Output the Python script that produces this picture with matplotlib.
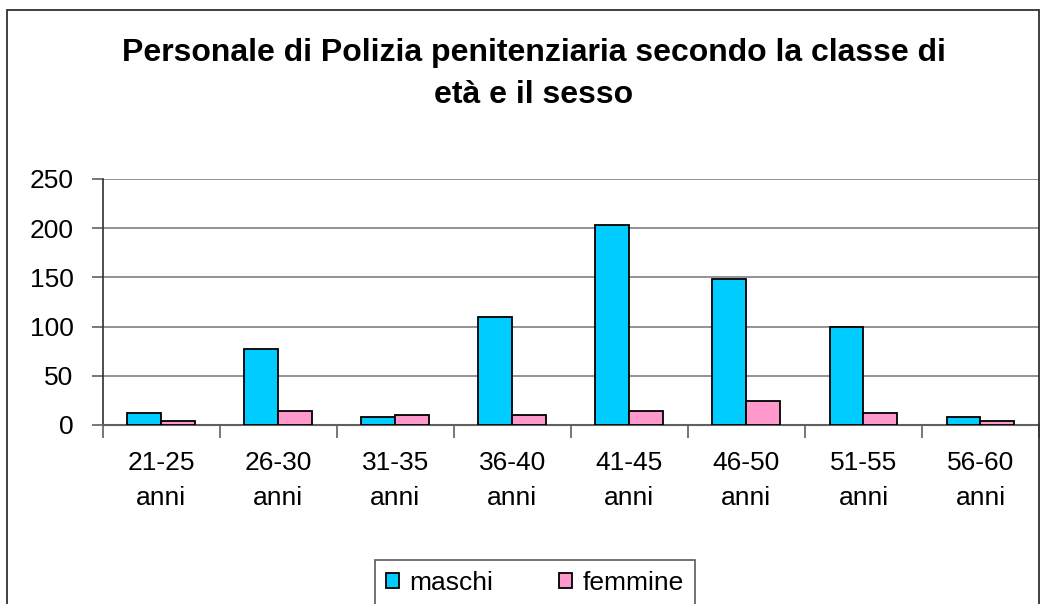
import matplotlib.pyplot as plt
import numpy as np
from matplotlib.patches import Rectangle

plt.rcParams['font.family'] = ['Liberation Sans', 'DejaVu Sans']

# Dati
classi = ["21-25\nanni", "26-30\nanni", "31-35\nanni", "36-40\nanni",
          "41-45\nanni", "46-50\nanni", "51-55\nanni", "56-60\nanni"]
maschi = [12, 77, 8, 110, 203, 148, 100, 8]
femmine = [4, 14, 10, 10, 14, 24, 12, 4]

fig = plt.figure(figsize=(10.42, 6.04), dpi=100)
ax = fig.add_axes([102.7 / 1042, 1 - 425 / 604, (1039 - 102.7) / 1042, (425 - 179) / 604])

x = np.arange(len(classi))
w = 0.29
ax.bar(x - w / 2, maschi, w, color='#00CCFF', edgecolor='black', linewidth=1.3,
       label='maschi', zorder=3)
ax.bar(x + w / 2, femmine, w, color='#FF99CC', edgecolor='black', linewidth=1.3,
       label='femmine', zorder=3)

ax.set_xlim(-0.5, len(classi) - 0.5)
ax.set_ylim(0, 250)
ax.set_yticks(range(0, 251, 50))
ax.yaxis.grid(True, color='#808080', linewidth=1.2, zorder=0)

ax.set_xticks(x)
ax.set_xticklabels(classi, fontsize=19, linespacing=1.55)
ax.set_xticks(np.arange(-0.5, len(classi)), minor=True)
ax.tick_params(axis='x', which='major', length=0, pad=19)
ax.tick_params(axis='x', which='minor', length=9, width=1.2, color='#606060')
ax.tick_params(axis='y', length=8, width=1.2, color='#606060', labelsize=19, pad=13)

for s in ['top', 'right']:
    ax.spines[s].set_visible(False)
ax.spines['left'].set_color('#303030')
ax.spines['left'].set_linewidth(1.2)
ax.spines['bottom'].set_color('#606060')
ax.spines['bottom'].set_linewidth(1.5)

fig.text(0.512, 1 - 74 / 604, "Personale di Polizia penitenziaria secondo la classe di\netà e il sesso",
         ha='center', va='center', fontsize=23, fontweight='bold', linespacing=1.5)

# Cornice del grafico
fig.patches.append(Rectangle((7 / 1042, -0.1), 1032 / 1042, 1.1 - 10 / 604,
                             transform=fig.transFigure, fill=False,
                             edgecolor='#303030', linewidth=1.3))

leg = fig.legend(loc='upper left', bbox_to_anchor=(375 / 1042, 1 - 560 / 604), ncol=2,
                 fontsize=19, frameon=True, fancybox=False, edgecolor='#303030',
                 handlelength=0.5, handleheight=0.5, handletextpad=0.4,
                 columnspacing=2.5, borderpad=0.4, borderaxespad=0)
leg.get_frame().set_linewidth(1.2)

fig.savefig("out.png", dpi=100)
